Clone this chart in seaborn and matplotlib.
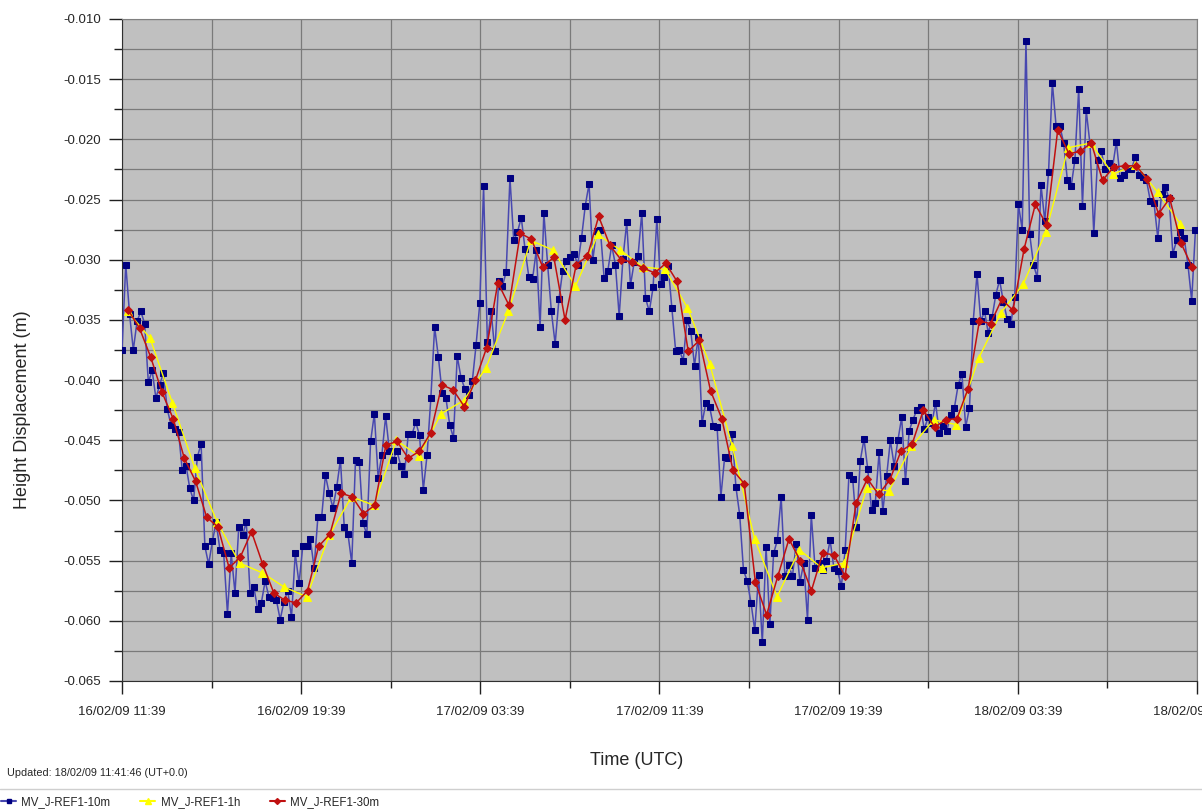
import pandas as pd
import matplotlib
matplotlib.use('Agg')
import matplotlib.pyplot as plt
import matplotlib.dates as mdates
import matplotlib.ticker as mticker
from matplotlib.lines import Line2D
import seaborn as sns

# Series MV_J-REF1 (en metros)
h10m = [
    -0.0375, -0.0304, -0.0345, -0.0375, -0.0351, -0.0343, -0.0353, -0.0402, -0.0392, -0.0415,
    -0.0404, -0.0394, -0.0424, -0.0437, -0.0441, -0.0443, -0.0475, -0.0471, -0.0490, -0.0500,
    -0.0464, -0.0453, -0.0538, -0.0553, -0.0534, -0.0518, -0.0541, -0.0544, -0.0594, -0.0544,
    -0.0577, -0.0522, -0.0529, -0.0518, -0.0577,
    -0.0572, -0.0590, -0.0585, -0.0567, -0.0580, -0.0581, -0.0583, -0.0599, -0.0584, -0.0575,
    -0.0597, -0.0544, -0.0569, -0.0538, -0.0538, -0.0532, -0.0556, -0.0514, -0.0514, -0.0479,
    -0.0494, -0.0506, -0.0489, -0.0466, -0.0522, -0.0528, -0.0552, -0.0466, -0.0468, -0.0519,
    -0.0528, -0.0451, -0.0428, -0.0481, -0.0462,
    -0.0430, -0.0459, -0.0466, -0.0459, -0.0471, -0.0478, -0.0445, -0.0445, -0.0435, -0.0446,
    -0.0491, -0.0462, -0.0415, -0.0356, -0.0381, -0.0411, -0.0415, -0.0437, -0.0448, -0.0380,
    -0.0398, -0.0407, -0.0412, -0.0401, -0.0371, -0.0336, -0.0239, -0.0368, -0.0343, -0.0376,
    -0.0318, -0.0322, -0.0310, -0.0232, -0.0284, -0.0277, -0.0265,
    -0.0291, -0.0314, -0.0316, -0.0292, -0.0356, -0.0261, -0.0304, -0.0343, -0.0370, -0.0333,
    -0.0309, -0.0301, -0.0298, -0.0295, -0.0304, -0.0282, -0.0255, -0.0237, -0.0300, -0.0276,
    -0.0275, -0.0315, -0.0309, -0.0288, -0.0304, -0.0347, -0.0299, -0.0269, -0.0321, -0.0302,
    -0.0297, -0.0261, -0.0332, -0.0343, -0.0323, -0.0266,
    -0.0320, -0.0314, -0.0305, -0.0340, -0.0376, -0.0375, -0.0384, -0.0350, -0.0359, -0.0388,
    -0.0364, -0.0436, -0.0419, -0.0422, -0.0438, -0.0439, -0.0497, -0.0464, -0.0465, -0.0445,
    -0.0489, -0.0512, -0.0558, -0.0567, -0.0585, -0.0608, -0.0562, -0.0618, -0.0539, -0.0603,
    -0.0544, -0.0533, -0.0497, -0.0563, -0.0554,
    -0.0563, -0.0536, -0.0568, -0.0552, -0.0599, -0.0512, -0.0556, -0.0552, -0.0558, -0.0550,
    -0.0533, -0.0556, -0.0559, -0.0571, -0.0541, -0.0479, -0.0482, -0.0522, -0.0467, -0.0449,
    -0.0474, -0.0508, -0.0502, -0.0460, -0.0509, -0.0480, -0.0450, -0.0471, -0.0450, -0.0431,
    -0.0484, -0.0442, -0.0433, -0.0425, -0.0422, -0.0441,
    -0.0431, -0.0436, -0.0419, -0.0444, -0.0438, -0.0442, -0.0429, -0.0423, -0.0404, -0.0395,
    -0.0439, -0.0423, -0.0351, -0.0312, -0.0351, -0.0343, -0.0361, -0.0348, -0.0329, -0.0317,
    -0.0335, -0.0349, -0.0353, -0.0331, -0.0254, -0.0275, -0.0118, -0.0279, -0.0304, -0.0315,
    -0.0238, -0.0268, -0.0227, -0.0153, -0.0189, -0.0189, -0.0203,
    -0.0234, -0.0239, -0.0217, -0.0158, -0.0255, -0.0176, -0.0204, -0.0278, -0.0217, -0.0210,
    -0.0225, -0.0220, -0.0223, -0.0202, -0.0232, -0.0230, -0.0225, -0.0225, -0.0215, -0.0230,
    -0.0231, -0.0234, -0.0251, -0.0253, -0.0282, -0.0245, -0.0240, -0.0249, -0.0295, -0.0284,
    -0.0277, -0.0282, -0.0304, -0.0334, -0.0275,
]

h30m = [
    -0.0342, -0.0357, -0.0381, -0.0410, -0.0432, -0.0465, -0.0484, -0.0514, -0.0522, -0.0556, -0.0547, -0.0526,
    -0.0553, -0.0577, -0.0583, -0.0585, -0.0575, -0.0538, -0.0528, -0.0494, -0.0497, -0.0511, -0.0504, -0.0454,
    -0.0451, -0.0465, -0.0459, -0.0444, -0.0404, -0.0408, -0.0422, -0.0400, -0.0373, -0.0319, -0.0338, -0.0278,
    -0.0283, -0.0306, -0.0298, -0.0350, -0.0304, -0.0297, -0.0264, -0.0288, -0.0300, -0.0302, -0.0307, -0.0311,
    -0.0303, -0.0318, -0.0376, -0.0367, -0.0409, -0.0432, -0.0475, -0.0486, -0.0568, -0.0595, -0.0563, -0.0532,
    -0.0550, -0.0575, -0.0544, -0.0545, -0.0563, -0.0502, -0.0482, -0.0495, -0.0483, -0.0459, -0.0453, -0.0425,
    -0.0439, -0.0433, -0.0432, -0.0407, -0.0351, -0.0353, -0.0333, -0.0342, -0.0291, -0.0254, -0.0271, -0.0192,
    -0.0212, -0.0210, -0.0203, -0.0234, -0.0223, -0.0222, -0.0222, -0.0233, -0.0262, -0.0249, -0.0286, -0.0306,
]

h1h = [
    -0.0343, -0.0365, -0.0419, -0.0473, -0.0518, -0.0552,
    -0.0560, -0.0572, -0.0580, -0.0529, -0.0497, -0.0504,
    -0.0450, -0.0463, -0.0428, -0.0417, -0.0390, -0.0343,
    -0.0284, -0.0292, -0.0322, -0.0279, -0.0292, -0.0306,
    -0.0308, -0.0340, -0.0387, -0.0455, -0.0532, -0.0580,
    -0.0541, -0.0556, -0.0552, -0.0490, -0.0492, -0.0455,
    -0.0433, -0.0437, -0.0382, -0.0344, -0.0320, -0.0277,
    -0.0207, -0.0203, -0.0229, -0.0221, -0.0244, -0.0270,
]

nombres = ['MV_J-REF1-10m', 'MV_J-REF1-1h', 'MV_J-REF1-30m']

t10m = pd.date_range('2009-02-16 11:39', '2009-02-18 11:35', periods=len(h10m))
t30m = pd.date_range('2009-02-16 11:56', periods=len(h30m), freq='30min')
t1h = pd.date_range('2009-02-16 11:54', periods=len(h1h), freq='60min')

x_ini = pd.Timestamp('2009-02-16 11:39')
x_fin = pd.Timestamp('2009-02-18 11:39')

sns.set_style('ticks')
plt.rcParams['font.family'] = ['Liberation Sans', 'DejaVu Sans']

fig = plt.figure(figsize=(12.02, 8.11), dpi=100)
ax = fig.add_axes([0.1015, 0.1603, 0.8943, 0.8163])
ax.set_facecolor('#c0c0c0')

# Dibujar las tres series
sns.lineplot(x=t10m, y=h10m, ax=ax, color='#4848b0', lw=1.1, marker='s', markersize=5,
             markerfacecolor='#000080', markeredgecolor='#000080', zorder=3)
sns.lineplot(x=t1h, y=h1h, ax=ax, color='#ffff00', lw=1.0, marker='^', markersize=5.5,
             markerfacecolor='#ffff00', markeredgecolor='#ffff00', zorder=4)
sns.lineplot(x=t30m, y=h30m, ax=ax, color='#c01010', lw=1.1, marker='D', markersize=4,
             markerfacecolor='#c01010', markeredgecolor='#c01010', zorder=5)

# Ejes
ax.set_xlim(x_ini, x_fin)
ax.set_ylim(-0.065, -0.010)
ax.xaxis.set_major_locator(mticker.FixedLocator(mdates.date2num(pd.date_range(x_ini, x_fin, freq='8h'))))
ax.xaxis.set_minor_locator(mticker.FixedLocator(mdates.date2num(pd.date_range(x_ini, x_fin, freq='4h'))))
ax.xaxis.set_major_formatter(mdates.DateFormatter('%d/%m/%y %H:%M'))
ax.yaxis.set_major_locator(mticker.MultipleLocator(0.005))
ax.yaxis.set_minor_locator(mticker.MultipleLocator(0.0025))
ax.yaxis.set_major_formatter(mticker.FormatStrFormatter('%.3f'))

ax.grid(which='both', color='#7a7a7a', lw=0.9, zorder=0)
ax.set_axisbelow(True)
ax.tick_params(axis='y', which='major', length=9.5, width=1, labelsize=9.5, pad=5.5, color='#202020')
ax.tick_params(axis='y', which='minor', length=6, width=1, color='#202020')
ax.tick_params(axis='x', which='major', length=9, width=1, labelsize=9.5, pad=9, color='#202020')
ax.tick_params(axis='x', which='minor', length=5, width=1, color='#202020')
for lado in ['top', 'right']:
    ax.spines[lado].set_color('#808080')
for lado in ['left', 'bottom']:
    ax.spines[lado].set_color('#303030')

ax.set_ylabel('Height Displacement (m)', fontsize=13)
ax.yaxis.set_label_coords(-0.085, 0.41)
ax.set_xlabel('Time (UTC)', fontsize=13)
ax.xaxis.set_label_coords(0.479, -0.107)

fig.text(0.006, 0.047, 'Updated: 18/02/09 11:41:46 (UT+0.0)', fontsize=7.8, va='center')
fig.add_artist(Line2D([0, 1], [0.027, 0.027], transform=fig.transFigure, color='#cfcfcf', lw=1))

manejadores = [
    Line2D([], [], color='#4848b0', marker='s', markersize=3.5, markerfacecolor='#000080', markeredgecolor='#000080'),
    Line2D([], [], color='#ffff00', marker='^', markersize=4, markerfacecolor='#ffff00', markeredgecolor='#ffff00'),
    Line2D([], [], color='#c01010', marker='D', markersize=3, markerfacecolor='#c01010', markeredgecolor='#c01010'),
]
fig.legend(manejadores, nombres, loc='center left', bbox_to_anchor=(0.0, 0.0105), ncol=3, frameon=False,
           fontsize=8.3, handlelength=1.3, handletextpad=0.45, columnspacing=2.6, borderaxespad=0,
           borderpad=0.1)

fig.savefig('out.png', dpi=100)
